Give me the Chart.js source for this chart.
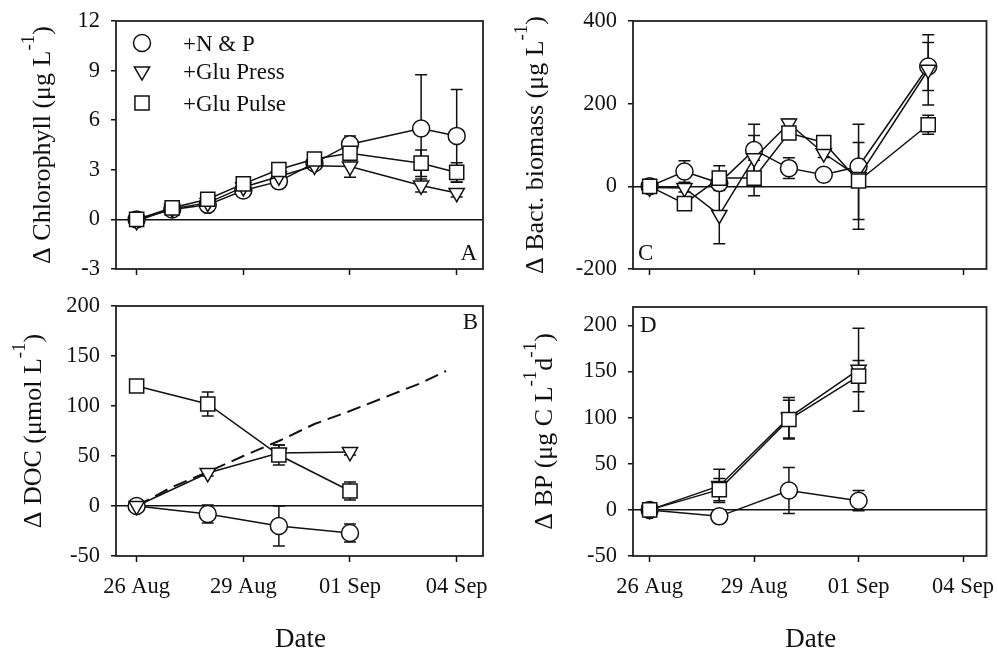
<!DOCTYPE html>
<html>
<head>
<meta charset="utf-8">
<script src="https://cdn.jsdelivr.net/npm/chart.js@4.4.0/dist/chart.umd.min.js"></script>
<style>
  html, body { margin: 0; padding: 0; background: #fff; overflow: hidden; }
  #wrap { position: relative; width: 998px; height: 648px; }
  canvas { position: absolute; }
</style>
</head>
<body>
<div id="wrap">
  <canvas id="chartA" width="498" height="290" style="left:0px;top:0px"></canvas>
  <canvas id="chartB" width="498" height="358" style="left:0px;top:290px"></canvas>
  <canvas id="chartC" width="500" height="290" style="left:498px;top:0px"></canvas>
  <canvas id="chartD" width="500" height="358" style="left:498px;top:290px"></canvas>
</div>
<script>
// --- Shared axis data ---
const tickDays = [0, 3, 6, 9];
const tickDates = ['26 Aug', '29 Aug', '01 Sep', '04 Sep'];
const seriesNames = ['+N & P', '+Glu Press', '+Glu Pulse'];

// --- A: chlorophyll (days after 26 Aug) ---
const chlDays = [0, 1, 2, 3, 4, 5, 6, 8, 9];
const chlNP = [0, 0.6, 0.88, 1.75, 2.3, 3.4, 4.55, 5.5, 5.05];
const chlNPErr = [0.1, 0.1, 0.15, 0.15, 0.2, 0.2, 0.5, 3.25, 2.8];
const chlPress = [-0.1, 0.65, 1.0, 1.95, 2.6, 3.25, 3.2, 2.05, 1.6];
const chlPressErr = [0.1, 0.1, 0.1, 0.15, 0.2, 0.2, 0.65, 0.4, 0.25];
const chlPulse = [0, 0.7, 1.22, 2.15, 3.02, 3.65, 4.0, 3.4, 2.84];
const chlPulseErr = [0.1, 0.15, 0.15, 0.15, 0.2, 0.2, 0.3, 0.8, 0.58];
const chlTicks = [-3, 0, 3, 6, 9, 12];

// --- B: DOC ---
const docDays = [0, 2, 4, 6];
const docNP = [0, -8, -20, -27];
const docNPErr = [2, 9, 20, 9];
const docPress = [0, 33, 53, 54];
const docPressErr = [2, 3, 8, 3];
const docPulse = [120, 102, 51, 15];
const docPulseErr = [2, 12, 10, 9];
const glucDays = [0, 1, 2, 3, 4, 5, 6, 7, 8, 8.7];
const glucAdded = [0, 19, 34, 50, 65, 82, 95, 109, 123, 135];
const docTicks = [-50, 0, 50, 100, 150, 200];

// --- C: bacterial biomass ---
const bacDays = [0, 1, 2, 3, 4, 5, 6, 8];
const bacNP = [0, 36, 8, 88, 44, 28, 48, 290];
const bacNPErr = [5, 26, 10, 62, 25, 8, 10, 58];
const bacPress = [-3, -4, -69, 68, 152, 80, 23, 282];
const bacPressErr = [8, 10, 70, 55, 10, 10, 127, 85];
const bacPulse = [0, -42, 20, 20, 129, 106, 13, 149];
const bacPulseErr = [5, 8, 30, 43, 10, 8, 93, 23];
const bacTicks = [-200, 0, 200, 400];

// --- D: bacterial production ---
const bpDays = [0, 2, 4, 6];
const bpNP = [0, -7, 21, 10];
const bpNPErr = [3, 3, 25, 11];
const bpPress = [0, 26, 100, 152];
const bpPressErr = [3, 18, 22, 45];
const bpPulse = [0, 22, 98, 145];
const bpPulseErr = [3, 12, 21, 17];
const bpTicks = [-50, 0, 50, 100, 150, 200];

const FONT = "'Liberation Serif', 'Times New Roman', serif";
const INK = '#111';
const LW = 1.5;

// marker look for each treatment, same order as seriesNames
const markers = [
    { pointStyle: 'circle', pointRadius: 8.5, pointRotation: 0, order: 3 },
    { pointStyle: 'triangle', pointRadius: 8.8, pointRotation: 180, order: 2 },
    { pointStyle: 'rect', pointRadius: 10, pointRotation: 0, order: 1 }
];

function series(idx, days, values, errors) {
    const m = markers[idx];
    return {
        label: seriesNames[idx],
        data: days.map((d, i) => ({ x: d, y: values[i] })),
        errors: errors,
        borderColor: INK,
        borderWidth: LW,
        pointBackgroundColor: '#fff',
        pointBorderColor: INK,
        pointBorderWidth: LW,
        pointStyle: m.pointStyle,
        pointRadius: m.pointRadius,
        pointRotation: m.pointRotation,
        order: m.order,
        tension: 0
    };
}

/**
 * Error bars, frame, titles, panel letter and legend.
 */
const panelDecor = {
    id: 'panelDecor',
    beforeDatasetsDraw(chart) {
        const ctx = chart.ctx;
        const yScale = chart.scales.y;
        ctx.save();
        ctx.strokeStyle = INK;
        ctx.lineWidth = LW;
        chart.data.datasets.forEach((ds, i) => {
            if (!ds.errors) return;
            chart.getDatasetMeta(i).data.forEach((pt, j) => {
                const e = ds.errors[j];
                if (!e) return;
                const v = ds.data[j].y;
                const top = yScale.getPixelForValue(v + e);
                const bot = yScale.getPixelForValue(v - e);
                ctx.beginPath();
                ctx.moveTo(pt.x, top); ctx.lineTo(pt.x, bot);
                ctx.moveTo(pt.x - 6, top); ctx.lineTo(pt.x + 6, top);
                ctx.moveTo(pt.x - 6, bot); ctx.lineTo(pt.x + 6, bot);
                ctx.stroke();
            });
        });
        ctx.restore();
    },
    afterDraw(chart, args, opts) {
        const ctx = chart.ctx;
        const area = chart.chartArea;
        ctx.save();

        // frame
        ctx.strokeStyle = '#222';
        ctx.lineWidth = 1.8;
        ctx.strokeRect(area.left, area.top, area.right - area.left, area.bottom - area.top);

        ctx.fillStyle = INK;

        // rotated y title with superscripts
        if (opts.yTitle) {
            ctx.save();
            ctx.translate(opts.yTitleX, (area.top + area.bottom) / 2);
            ctx.rotate(-Math.PI / 2);
            ctx.textBaseline = 'alphabetic';
            ctx.textAlign = 'left';
            let total = 0;
            const widths = opts.yTitle.map(([text, sup]) => {
                ctx.font = (sup ? '19px ' : '26px ') + FONT;
                const w = ctx.measureText(text).width;
                total += w;
                return w;
            });
            let pos = -total / 2;
            opts.yTitle.forEach(([text, sup], i) => {
                ctx.font = (sup ? '19px ' : '26px ') + FONT;
                ctx.fillText(text, pos, sup ? -16 : 0);
                pos += widths[i];
            });
            ctx.restore();
        }

        // x title
        if (opts.xTitle) {
            ctx.font = '27px ' + FONT;
            ctx.textAlign = 'center';
            ctx.textBaseline = 'alphabetic';
            ctx.fillText(opts.xTitle, (area.left + area.right) / 2 + 1, chart.height - 1);
        }

        // panel letter
        if (opts.letter) {
            ctx.font = '23px ' + FONT;
            ctx.textAlign = opts.letter.align;
            ctx.textBaseline = 'alphabetic';
            ctx.fillText(opts.letter.text, opts.letter.x, opts.letter.y);
        }

        // legend
        if (opts.legend) {
            const lg = opts.legend;
            seriesNames.forEach((name, i) => {
                const m = markers[i];
                ctx.fillStyle = '#fff';
                ctx.strokeStyle = INK;
                ctx.lineWidth = LW;
                Chart.helpers.drawPoint(ctx, {
                    pointStyle: m.pointStyle,
                    radius: m.pointRadius,
                    rotation: m.pointRotation,
                    borderWidth: LW
                }, lg.x, lg.ys[i]);
                ctx.fillStyle = INK;
                ctx.font = '23px ' + FONT;
                ctx.textAlign = 'left';
                ctx.textBaseline = 'alphabetic';
                ctx.fillText(name, lg.textX, lg.ys[i] + 7.5);
            });
        }
        ctx.restore();
    }
};

function buildPanel(canvasId, cfg) {
    return new Chart(document.getElementById(canvasId), {
        type: 'line',
        data: { datasets: cfg.datasets },
        plugins: [panelDecor],
        options: {
            responsive: false,
            animation: false,
            layout: { padding: cfg.padding },
            plugins: {
                legend: { display: false },
                tooltip: { enabled: false },
                panelDecor: cfg.decor
            },
            scales: {
                x: {
                    type: 'linear',
                    min: cfg.xMin,
                    max: cfg.xMax,
                    afterBuildTicks: s => { s.ticks = tickDays.map(v => ({ value: v })); },
                    afterFit: s => { s.height = cfg.xAxisHeight; s.paddingLeft = 0; s.paddingRight = 0; },
                    grid: { drawOnChartArea: false, drawTicks: true, tickLength: 6, tickColor: INK, tickWidth: LW },
                    border: { display: false },
                    ticks: {
                        display: cfg.xLabels,
                        padding: 12,
                        color: INK,
                        font: { family: FONT, size: 22.5 },
                        maxRotation: 0,
                        autoSkip: false,
                        callback: v => tickDates[tickDays.indexOf(v)]
                    }
                },
                y: {
                    type: 'linear',
                    min: cfg.yMin,
                    max: cfg.yMax,
                    afterBuildTicks: s => { s.ticks = cfg.yTicks.map(v => ({ value: v })); },
                    afterFit: s => { s.width = cfg.yAxisWidth; s.paddingTop = 0; s.paddingBottom = 0; },
                    grid: {
                        drawOnChartArea: true,
                        color: c => (c.tick && c.tick.value === 0 ? INK : 'rgba(0,0,0,0)'),
                        lineWidth: LW,
                        drawTicks: true,
                        tickLength: 5,
                        tickColor: INK,
                        tickWidth: LW
                    },
                    border: { display: false },
                    ticks: { padding: 11, color: INK, font: { family: FONT, size: 22.5 } }
                }
            }
        }
    });
}

// --- Panel A ---
buildPanel('chartA', {
    datasets: [
        series(0, chlDays, chlNP, chlNPErr),
        series(1, chlDays, chlPress, chlPressErr),
        series(2, chlDays, chlPulse, chlPulseErr)
    ],
    padding: { top: 21, right: 15, left: 0, bottom: 0 },
    xMin: -0.58, xMax: 9.74, xLabels: false, xAxisHeight: 21,
    yMin: -3, yMax: 12, yTicks: chlTicks, yAxisWidth: 116,
    decor: {
        yTitle: [['Δ Chlorophyll (μg L', false], ['-1', true], [')', false]],
        yTitleX: 50,
        letter: { text: 'A', x: 477, y: 260, align: 'right' },
        legend: { x: 142, ys: [43, 71.3, 103], textX: 183 }
    }
});

// --- Panel B ---
buildPanel('chartB', {
    datasets: [
        series(0, docDays, docNP, docNPErr),
        series(1, docDays, docPress, docPressErr),
        series(2, docDays, docPulse, docPulseErr),
        {
            label: 'Glucose added',
            data: glucDays.map((d, i) => ({ x: d, y: glucAdded[i] })),
            borderColor: INK,
            borderWidth: 2,
            borderDash: [14, 7],
            pointRadius: 0,
            order: 4,
            tension: 0
        }
    ],
    padding: { top: 16, right: 15, left: 0, bottom: 0 },
    xMin: -0.58, xMax: 9.74, xLabels: true, xAxisHeight: 92,
    yMin: -50, yMax: 200, yTicks: docTicks, yAxisWidth: 116,
    decor: {
        yTitle: [['Δ DOC (μmol L', false], ['-1', true], [')', false]],
        yTitleX: 40.5,
        xTitle: 'Date',
        letter: { text: 'B', x: 478, y: 39, align: 'right' }
    }
});

// --- Panel C ---
buildPanel('chartC', {
    datasets: [
        series(0, bacDays, bacNP, bacNPErr),
        series(1, bacDays, bacPress, bacPressErr),
        series(2, bacDays, bacPulse, bacPulseErr)
    ],
    padding: { top: 21, right: 4, left: 0, bottom: 0 },
    xMin: -0.478, xMax: 9.674, xLabels: false, xAxisHeight: 21,
    yMin: -200, yMax: 400, yTicks: bacTicks, yAxisWidth: 135,
    decor: {
        yTitle: [['Δ Bact. biomass (μg L', false], ['-1', true], [')', false]],
        yTitleX: 45,
        letter: { text: 'C', x: 140, y: 260, align: 'left' }
    }
});

// --- Panel D ---
buildPanel('chartD', {
    datasets: [
        series(0, bpDays, bpNP, bpNPErr),
        series(1, bpDays, bpPress, bpPressErr),
        series(2, bpDays, bpPulse, bpPulseErr)
    ],
    padding: { top: 17, right: 4, left: 0, bottom: 0 },
    xMin: -0.478, xMax: 9.674, xLabels: true, xAxisHeight: 92,
    yMin: -50, yMax: 220, yTicks: bpTicks, yAxisWidth: 135,
    decor: {
        yTitle: [['Δ BP (μg C L', false], ['-1', true], ['d', false], ['-1', true], [')', false]],
        yTitleX: 54,
        xTitle: 'Date',
        letter: { text: 'D', x: 142, y: 41.5, align: 'left' }
    }
});
</script>
</body>
</html>
